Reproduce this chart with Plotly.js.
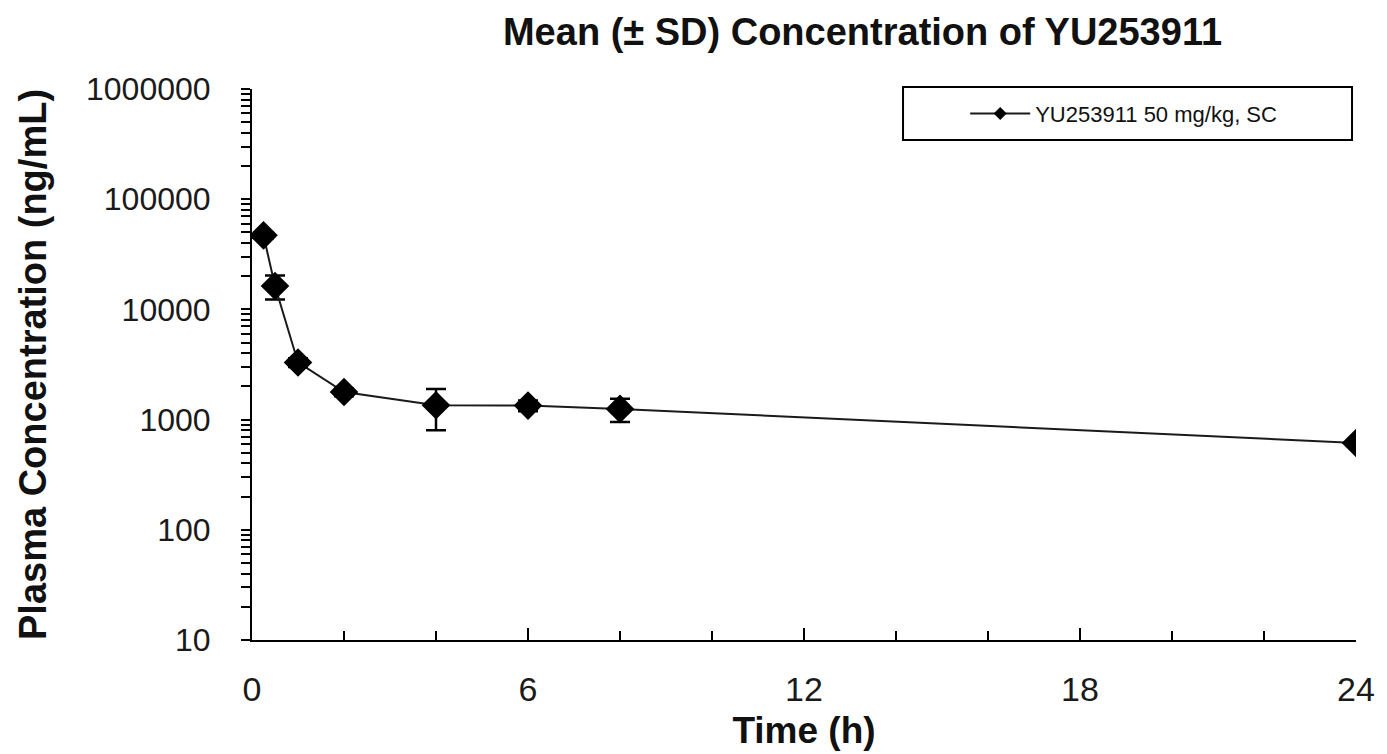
<!DOCTYPE html>
<html>
<head>
<meta charset="utf-8">
<script src="https://cdn.plot.ly/plotly-3.0.1.min.js"></script>
<style>html,body{margin:0;padding:0;background:#fff;}#chart{width:1387px;height:754px;}</style>
</head>
<body>
<div id="chart"></div>
<script>
const timeH = [0.25, 0.5, 1, 2, 4, 6, 8, 24];
const meanConc = [47000, 16300, 3300, 1780, 1350, 1340, 1250, 614];
const sdConc = [3000, 4000, 300, 150, 550, 150, 300, 30];
const seriesName = "YU253911 50 mg/kg, SC";
const yTickVals = [10, 100, 1000, 10000, 100000, 1000000];
const yTickText = ["10", "100", "1000", "10000", "100000", "1000000"];
const xTickVals = [0, 6, 12, 18, 24];
const minorMultipliers = [1, 2, 3, 4, 5, 6, 7, 8, 9];

// combined major + minor tick positions; minor ones carry empty labels
const yAllVals = [], yAllText = [];
yTickVals.forEach((v, i) => {
  const mults = i === yTickVals.length - 1 ? [1] : minorMultipliers;
  mults.forEach(m => { yAllVals.push(v * m); yAllText.push(m === 1 ? yTickText[i] : ' '); });
});

const trace = {
  x: timeH, y: meanConc, type: 'scatter', mode: 'lines+markers', name: seriesName,
  showlegend: false,
  line: {color: '#1a1a1a', width: 2},
  marker: {symbol: 'diamond', size: 22, color: '#000'},
  error_y: {type: 'data', array: sdConc, visible: true, color: '#000', thickness: 2.5, width: 10}
};
const legendTrace = {
  x: [null], y: [null], type: 'scatter', mode: 'lines+markers', name: seriesName,
  line: {color: '#1a1a1a', width: 2},
  marker: {symbol: 'diamond', size: 10, color: '#000'}
};

const layout = {
  width: 1387, height: 754,
  margin: {l: 252, r: 31, t: 89, b: 114},
  paper_bgcolor: '#fff', plot_bgcolor: '#fff',
  font: {family: 'Liberation Sans, Arial, sans-serif', color: '#1a1a1a'},
  title: {text: 'Mean (± SD) Concentration of YU253911', font: {size: 38, family: 'Liberation Sans, Arial', weight: 'bold', color: '#111'},
    x: 0.553, xref: 'paper', xanchor: 'center', y: 0.958, yanchor: 'middle'},
  xaxis: {range: [0, 24], tickvals: xTickVals, ticks: 'inside', ticklen: 12, tickwidth: 2, tickcolor: '#000',
    showline: true, linecolor: '#000', linewidth: 2, showgrid: false, zeroline: false,
    tickfont: {size: 34}, ticklabelstandoff: 18,
    minor: {dtick: 2, ticks: 'inside', ticklen: 9, tickwidth: 2, tickcolor: '#000', showgrid: false},
    title: {text: 'Time (h)', font: {size: 37, weight: 'bold', color: '#111'}, standoff: 10}},
  yaxis: {type: 'log', range: [1, 6], tickmode: 'array', tickvals: yAllVals, ticktext: yAllText,
    ticks: 'outside', ticklen: 9, tickwidth: 2, tickcolor: '#000',
    showline: true, linecolor: '#000', linewidth: 2, showgrid: false, zeroline: false,
    tickfont: {size: 32}, ticklabelstandoff: 24,
    title: {text: 'Plasma Concentration (ng/mL)', font: {size: 38, weight: 'bold', color: '#111'}, standoff: 28}},
  showlegend: true,
  legend: {x: 0.646, xanchor: 'left', y: 0.955, yanchor: 'middle', borderwidth: 0,
    bgcolor: 'rgba(0,0,0,0)', font: {size: 22, color: '#111'}, itemwidth: 60},
  shapes: [{type: 'rect', xref: 'paper', yref: 'paper', x0: 0.5897, x1: 0.9964, y0: 0.9074, y1: 1.0036,
    line: {color: '#000', width: 2}, fillcolor: '#fff', layer: 'above'}]
};

Plotly.newPlot('chart', [trace, legendTrace], layout, {displayModeBar: false, staticPlot: true});
</script>
</body>
</html>
